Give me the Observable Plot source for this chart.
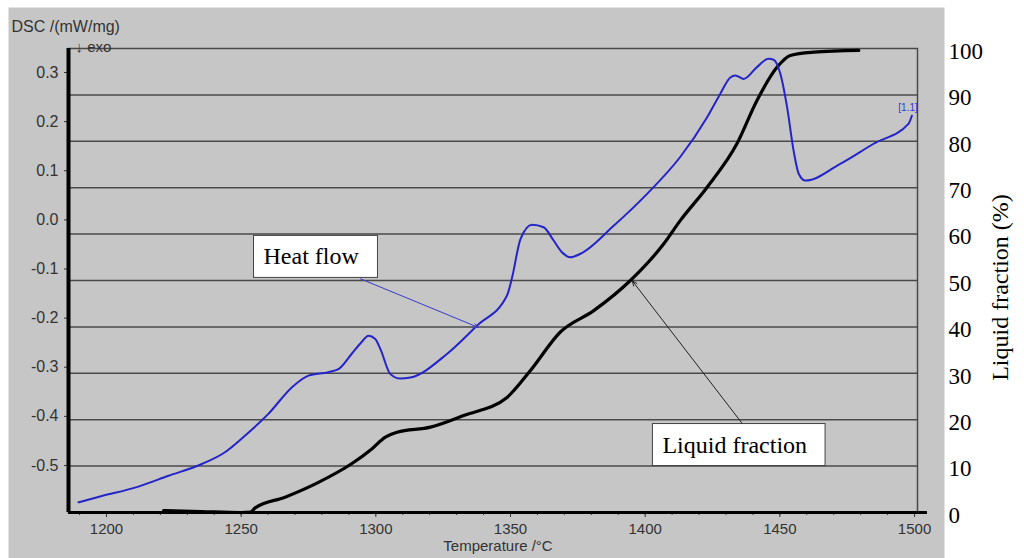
<!DOCTYPE html>
<html>
<head>
<meta charset="utf-8">
<script src="https://cdn.jsdelivr.net/npm/d3@7"></script>
<script src="https://cdn.jsdelivr.net/npm/@observablehq/plot@0.6"></script>
<style>
  html, body { margin: 0; padding: 0; background: white; }
</style>
</head>
<body>
<div id="chart"></div>
<script>
// ---- data ----
const dscTemp = [1189.6, 1198.3, 1210.6, 1223, 1235.4, 1244, 1251.5, 1260.1, 1268.8, 1275, 1282.4, 1286.1, 1291, 1294.5, 1297.3, 1299.7, 1301.7, 1305.4, 1309.1, 1312.8, 1326.4, 1337.6, 1348.7, 1350.6, 1353.7, 1358, 1362.3, 1366, 1369.1, 1372.2, 1376, 1388.3, 1400.7, 1413, 1423, 1427.9, 1431.6, 1433.5, 1436.6, 1441.5, 1445.8, 1447.7, 1450.2, 1452.7, 1455.1, 1457, 1459.5, 1472.4, 1484.8, 1497.8, 1499];
const dscValue = [-0.575, -0.562, -0.545, -0.521, -0.497, -0.473, -0.439, -0.395, -0.341, -0.317, -0.310, -0.304, -0.273, -0.250, -0.236, -0.242, -0.263, -0.314, -0.323, -0.321, -0.273, -0.215, -0.154, -0.117, -0.039, -0.010, -0.015, -0.042, -0.066, -0.076, -0.069, -0.012, 0.053, 0.128, 0.209, 0.257, 0.290, 0.294, 0.287, 0.311, 0.328, 0.326, 0.297, 0.229, 0.141, 0.094, 0.080, 0.114, 0.155, 0.196, 0.212];

const lfTemp = [1221.2, 1235, 1250, 1253.5, 1255.2, 1266.3, 1278.7, 1291, 1298.5, 1303.4, 1307.9, 1320.3, 1332.6, 1348.7, 1357.4, 1368.5, 1380.9, 1394.5, 1406.9, 1413, 1423, 1434.1, 1441.5, 1449, 1453.9, 1462.6, 1479.3];
const lfValue = [0.4, 0.2, 0, 0.1, 1.0, 3.3, 6.5, 10.5, 13.7, 16.2, 17.3, 18.4, 20.9, 24.8, 30.6, 38.9, 43.5, 50, 57.9, 62.9, 70.1, 79.5, 88.8, 96, 98.5, 99.2, 99.6];

const tempTicks = [1200, 1250, 1300, 1350, 1400, 1450, 1500];
const tempMinorTicks = d3.range(1190, 1501, 10);
const dscTicks = [-0.5, -0.4, -0.3, -0.2, -0.1, 0.0, 0.1, 0.2, 0.3];
const lfTicks = [0, 10, 20, 30, 40, 50, 60, 70, 80, 90, 100];

const xDomain = [1185.9, 1501.1];
const yDomain = [-0.5957, 0.3489];

// annotations (data units)
const labelTexts = ["Heat flow", "Liquid fraction"];
const labelTemps = [1258.3, 1406.4];
const labelValues = [-0.075, -0.458];
const arrowFromTemp = [1294.3, 1436.1];
const arrowFromValue = [-0.120, -0.415];
const arrowToTemp = [1338.1, 1395.2];
const arrowToValue = [-0.219, -0.124];
const arrowColors = ["#3a3ac8", "#222222"];
const markerText = ["[1.1]"];
const markerTemp = [1497.6];
const markerValue = [0.229];

// ---- build tables ----
const lfToY = lf => yDomain[0] + lf / 100 * (yDomain[1] - yDomain[0]);
const yToLf = v => Math.round((v - yDomain[0]) / (yDomain[1] - yDomain[0]) * 100);

const dscRows = dscTemp.map((T, i) => ({T, v: dscValue[i]}));
const lfRows = lfTemp.map((T, i) => ({T, lf: lfValue[i]}));
const labels = labelTexts.map((t, i) => ({text: t, T: labelTemps[i], v: labelValues[i]}));
const arrows = arrowFromTemp.map((T, i) => ({x1: T, y1: arrowFromValue[i], x2: arrowToTemp[i], y2: arrowToValue[i], c: arrowColors[i]}));
const markers = markerText.map((t, i) => ({text: t, T: markerTemp[i], v: markerValue[i]}));

const serif = "'Liberation Serif', 'Times New Roman', serif";
const sans = "'Liberation Sans', Arial, sans-serif";

const plot = Plot.plot({
  width: 1024,
  height: 558,
  marginLeft: 68,
  marginRight: 107,
  marginTop: 48,
  marginBottom: 46,
  x: {domain: xDomain},
  y: {domain: yDomain},
  style: {fontFamily: sans, fontSize: "16px", color: "#333", background: "white"},
  marks: [
    Plot.frame({fill: "#c6c6c6", stroke: null, insetLeft: -60, insetTop: -41, insetRight: -27, insetBottom: -46}),
    Plot.ruleY(lfTicks.filter(d => d > 0 && d < 100), {y: d => lfToY(d), stroke: "#4a4a4a", strokeWidth: 1.5}),
    Plot.frame({stroke: "#4a4a4a", strokeWidth: 1.5}),
    Plot.axisY({ticks: dscTicks, tickSize: 4, tickPadding: 6, tickFormat: d => d.toFixed(1), label: null, fill: "#333"}),
    Plot.axisY({anchor: "right", ticks: lfTicks.map(lfToY), tickFormat: yToLf, tickSize: 0, tickPadding: 31,
      fontFamily: serif, fontSize: 23, fill: "black", label: null, dy: 3}),
    Plot.axisX({ticks: tempMinorTicks, tickSize: 3, tickFormat: () => "", label: null}),
    Plot.axisX({ticks: tempTicks, tickSize: 5, tickPadding: 6, fontSize: 15, tickFormat: d => String(d), label: null, fill: "#333"}),
    Plot.ruleY([yDomain[0]], {stroke: "black", strokeWidth: 3, insetRight: -10}),
    Plot.ruleX([xDomain[0]], {stroke: "black", strokeWidth: 4}),
    Plot.line(lfRows, {x: "T", y: d => lfToY(d.lf), stroke: "black", strokeWidth: 3.2, curve: "monotone-x"}),
    Plot.line(dscRows, {x: "T", y: "v", stroke: "#2424c8", strokeWidth: 2, curve: "monotone-x"}),
    Plot.arrow(arrows, {x1: "x1", y1: "y1", x2: "x2", y2: "y2", stroke: "c", strokeWidth: 1, headLength: 8, headAngle: 45}),
    Plot.text(labels, {x: "T", y: "v", text: "text", textAnchor: "start", fontFamily: serif, fontSize: 24, fill: "black"}),
    Plot.text(markers, {x: "T", y: "v", text: "text", fill: "#3535d0", fontSize: 10}),
    Plot.text(["DSC /(mW/mg)"], {text: d => d, frameAnchor: "top-left", textAnchor: "start", dx: -57, dy: -28, fill: "#333"}),
    Plot.text(["\u2193 exo"], {text: d => d, frameAnchor: "top-left", textAnchor: "start", dx: 7, dy: -7, fontSize: 15, fill: "#333"}),
    Plot.text(["Temperature /\u00b0C"], {text: d => d, frameAnchor: "bottom", dx: 5, dy: 38, fontSize: 15, fill: "#333"}),
    Plot.text(["Liquid fraction (%)"], {text: d => d, frameAnchor: "right", textAnchor: "middle", rotate: -90, dx: 83, dy: 7, fontFamily: serif, fontSize: 24, fill: "black"})
  ]
});

document.getElementById("chart").appendChild(plot);

// white boxes behind the annotation labels
plot.querySelectorAll("text").forEach(t => {
  if (!labelTexts.includes(t.textContent)) return;
  const b = t.getBBox();
  const cy = b.y + b.height / 2;
  const r = document.createElementNS("http://www.w3.org/2000/svg", "rect");
  r.setAttribute("x", b.x - 10);
  r.setAttribute("y", cy - 21);
  r.setAttribute("width", b.width + 28);
  r.setAttribute("height", 42);
  r.setAttribute("fill", "white");
  r.setAttribute("stroke", "#444");
  r.setAttribute("stroke-width", 1);
  if (t.getAttribute("transform")) r.setAttribute("transform", t.getAttribute("transform"));
  t.parentNode.insertBefore(r, t);
});
</script>
</body>
</html>
